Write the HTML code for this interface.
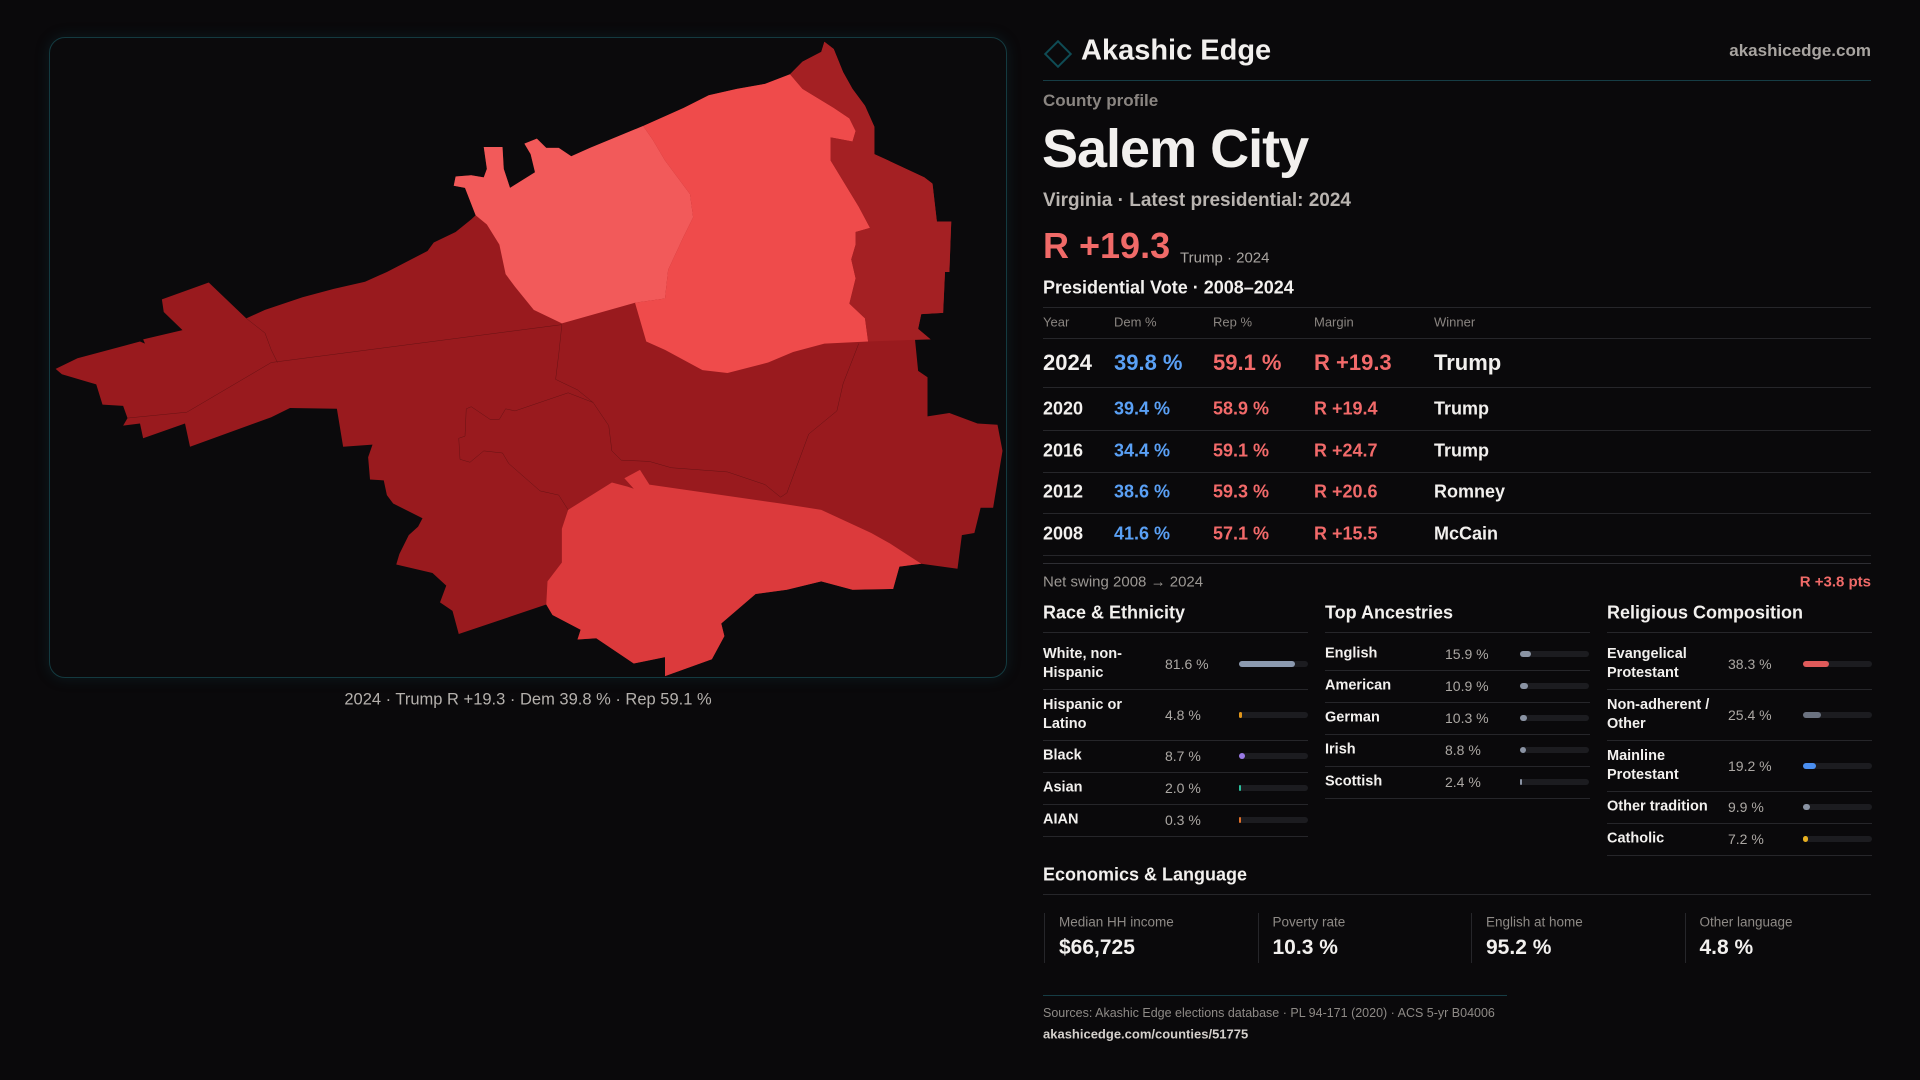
<!DOCTYPE html>
<html><head><meta charset="utf-8">
<style>
*{margin:0;padding:0;box-sizing:border-box}
body{width:1920px;height:1080px;background:#0a090b;font-family:"Liberation Sans",sans-serif;color:#f2f0ee;position:relative;overflow:hidden}
.a{position:absolute;white-space:nowrap}
.hl{position:absolute;height:1px;background:#26262a}
.mid{transform:translateY(-50%)}
</style></head><body>
<div class="a" style="left:49px;top:37px;width:958px;height:641px;border:1px solid #143a40;border-radius:16px;background:#0b0a0c;box-shadow:0 0 14px rgba(20,80,90,0.25)"></div>
<svg class="a" style="left:0;top:0" width="1920" height="1080" viewBox="0 0 1920 1080">
<g transform="translate(40,30) scale(0.625,0.4209)">
<polygon fill="#991a1e" points="25,805 60,780 160,740 168,745 165,735 228,713 198,670 195,640 270,600 330,685 360,665 420,635 470,615 520,598 555,575 620,525 630,505 665,480 690,450 697,440 680,375 662,370 665,348 690,345 710,350 715,330 710,278 740,278 742,330 752,375 792,338 785,295 775,270 795,258 810,280 830,280 850,300 880,280 965,228 1030,185 1070,155 1115,140 1160,128 1200,105 1220,75 1250,52 1255,28 1270,45 1285,100 1300,140 1320,180 1335,230 1335,295 1350,305 1415,350 1428,365 1435,455 1458,455 1455,575 1448,575 1445,672 1410,675 1405,710 1425,735 1400,735 1405,810 1420,825 1420,918 1455,910 1500,935 1532,938 1540,1000 1525,1135 1505,1135 1495,1195 1475,1200 1468,1280 1410,1268 1375,1275 1365,1328 1300,1330 1250,1310 1195,1330 1145,1340 1090,1410 1095,1440 1075,1495 1000,1535 1000,1490 950,1505 890,1445 860,1448 865,1425 820,1390 810,1365 670,1435 660,1380 640,1360 650,1320 628,1290 570,1270 575,1245 590,1200 605,1180 612,1160 565,1125 555,1105 550,1070 528,1068 525,1015 532,985 485,990 475,900 400,898 370,920 240,990 232,935 165,970 160,935 133,940 140,922 133,893 100,890 90,842 35,818"/>
<polygon fill="#f25a5a" points="697,440 680,375 662,370 665,348 690,345 710,350 715,330 710,278 740,278 742,330 752,375 792,338 785,295 775,270 795,258 810,280 830,280 850,300 880,280 965,228 980,260 1000,310 1040,390 1045,445 1030,490 1005,570 1000,638 952,648 835,697 790,665 760,610 745,580 735,510 715,462"/>
<polygon fill="#ef4b4b" points="965,228 1030,185 1070,155 1115,140 1160,128 1200,105 1220,140 1270,185 1295,210 1305,240 1300,265 1265,255 1265,310 1310,420 1328,470 1305,480 1305,510 1298,545 1305,590 1295,650 1320,685 1325,740 1255,745 1205,765 1165,790 1100,815 1060,808 1000,760 970,740 952,648 1000,638 1005,570 1030,490 1045,445 1040,390 1000,310 980,260"/>
<polygon fill="#a42023" points="1200,105 1220,75 1250,52 1255,28 1270,45 1285,100 1300,140 1320,180 1335,230 1335,295 1350,305 1415,350 1428,365 1435,455 1458,455 1455,575 1448,575 1445,672 1410,675 1405,710 1425,735 1325,740 1320,685 1295,650 1305,590 1298,545 1305,510 1305,480 1328,470 1310,420 1265,310 1265,255 1300,265 1305,240 1295,210 1270,185 1220,140"/>
<polygon fill="#dc3a3c" points="960,1045 975,1080 1185,1125 1250,1140 1330,1195 1360,1220 1410,1268 1375,1275 1365,1328 1300,1330 1250,1310 1195,1330 1145,1340 1090,1410 1095,1440 1075,1495 1000,1535 1000,1490 950,1505 890,1445 860,1448 865,1425 820,1390 810,1365 812,1310 835,1265 835,1185 845,1140 915,1075 940,1085 950,1090 935,1065"/>
<g fill="none" stroke="#5e0f12" vector-effect="non-scaling-stroke" style="stroke-width:0.8px">
<polyline points="835,700 370,790 235,908 140,922"/>
<polyline points="330,685 360,720 370,760 380,790"/>
<polyline points="835,700 830,770 825,830 860,855 885,885 910,940 915,1000 930,1022 975,1025 1010,1040 1100,1050 1160,1080 1185,1110 1195,1100 1230,960 1275,905 1285,840 1310,745"/>
<polyline points="885,885 845,862 760,905 745,900 735,925 720,925 690,895 682,900 680,965 670,970 672,1020 688,1027 710,1000 740,1005 750,1030 800,1095 830,1105 845,1140"/>
</g>
</g>
</svg>
<div class="a" style="left:528px;top:700px;transform:translate(-50%,-50%);font-size:16.5px;color:#b4b0ac">2024 · Trump R +19.3 · Dem 39.8 % · Rep 59.1 %</div>

<div class="a" style="left:1048px;top:44px;width:20px;height:20px;border:2px solid #0f4c55;transform:rotate(45deg)"></div>
<div class="a mid" style="left:1081px;top:51px;font-size:29px;font-weight:bold">Akashic Edge</div>
<div class="a mid" style="right:49px;top:51px;font-size:17px;color:#a8a4a0;font-weight:bold">akashicedge.com</div>
<div class="hl" style="left:1043px;width:828px;top:80px;background:#163d45"></div>
<div class="a mid" style="left:1043px;top:101px;font-size:17px;color:#8a8581;font-weight:bold">County profile</div>
<div class="a mid" style="left:1042px;top:149px;font-size:54px;font-weight:bold;letter-spacing:-1px">Salem City</div>
<div class="a mid" style="left:1043px;top:201px;font-size:19px;color:#b9b4b0;font-weight:bold">Virginia · Latest presidential: 2024</div>
<div class="a mid" style="left:1043px;top:246px;font-size:36px;color:#f06a68;font-weight:bold">R +19.3</div>
<div class="a mid" style="left:1180px;top:258px;font-size:15px;color:#a8a4a0">Trump · 2024</div>
<div class="a mid" style="left:1043px;top:288px;font-size:18px;font-weight:bold">Presidential Vote · 2008–2024</div>
<div class="hl" style="left:1043px;width:828px;top:563px;background:#2e2e33"></div>
<div class="a mid" style="left:1043px;top:582px;font-size:15px;color:#9c9894">Net swing 2008 → 2024</div>
<div class="a mid" style="right:49px;top:582px;font-size:15px;color:#f06a68;font-weight:bold">R +3.8 pts</div>

<div class="a mid" style="left:1043px;top:875px;font-size:18px;font-weight:bold">Economics &amp; Language</div>
<div class="hl" style="left:1043px;width:828px;top:894px"></div>
<div class="hl" style="left:1043px;width:464px;top:995px;background:#163d45"></div>
<div class="a mid" style="left:1043px;top:1013px;font-size:12.5px;color:#8e8a86">Sources: Akashic Edge elections database · PL 94-171 (2020) · ACS 5-yr B04006</div>
<div class="a mid" style="left:1043px;top:1034px;font-size:13px;color:#d4d0cc;font-weight:bold">akashicedge.com/counties/51775</div>

<script>
const years=["2024","2020","2016","2012","2008"];
const demPct=[39.8,39.4,34.4,38.6,41.6];
const repPct=[59.1,58.9,59.1,59.3,57.1];
const margins=[19.3,19.4,24.7,20.6,15.5];
const winners=["Trump","Trump","Trump","Romney","McCain"];
const raceLabels=["White, non-<br>Hispanic","Hispanic or<br>Latino","Black","Asian","AIAN"];
const raceValues=[81.6,4.8,8.7,2.0,0.3];
const ancLabels=["English","American","German","Irish","Scottish"];
const ancValues=[15.9,10.9,10.3,8.8,2.4];
const relLabels=["Evangelical<br>Protestant","Non-adherent /<br>Other","Mainline<br>Protestant","Other tradition","Catholic"];
const relValues=[38.3,25.4,19.2,9.9,7.2];
const econLabels=["Median HH income","Poverty rate","English at home","Other language"];
const econValues=["$66,725","10.3 %","95.2 %","4.8 %"];

function mk(parent,css,html){const d=document.createElement('div');d.className='a';d.style.cssText=css;if(html!==undefined)d.innerHTML=html;parent.appendChild(d);return d;}
const B=document.body;
const cols=[1043,1114,1213,1314,1434];
const hdr=["Year","Dem %","Rep %","Margin","Winner"];
mk(B,'left:1043px;width:828px;top:307px;height:1px;background:#26262a');
hdr.forEach((h,i)=>{const e=mk(B,`left:${cols[i]}px;top:322px;transform:translateY(-50%);font-size:13px;color:#8a8581`,h);

});
mk(B,'left:1043px;width:828px;top:338px;height:1px;background:#26262a');
let y=338;
years.forEach((yr,i)=>{
  const h=i===0?49:(i===1?43:41.5);
  const c=y+h/2;const fs=i===0?22:18;
  const cells=[[yr,'#f2f0ee'],[demPct[i].toFixed(1)+' %','#5aa0f5'],[repPct[i].toFixed(1)+' %','#f26a6a'],['R +'+margins[i].toFixed(1),'#f26a6a'],[winners[i],'#f2f0ee']];
  cells.forEach((cl,j)=>{const e=mk(B,`left:${cols[j]}px;top:${c}px;transform:translateY(-50%);font-size:${fs}px;color:${cl[1]};font-weight:bold`,cl[0]);
  
  });
  y+=h;
  const l=mk(B,`left:1043px;width:828px;top:${Math.round(y)}px;height:1px;background:#26262a`);
  
});
const sections=[
 {title:"Race & Ethnicity",x:1043,vx:1165,bx:1239,labels:raceLabels,vals:raceValues,colors:["#8c9ab0","#e0951a","#9a7ae6","#2bbf9c","#e0702a"]},
 {title:"Top Ancestries",x:1325,vx:1445,bx:1520,labels:ancLabels,vals:ancValues,colors:["#8a93a3","#8a93a3","#8a93a3","#8a93a3","#8a93a3"]},
 {title:"Religious Composition",x:1607,vx:1728,bx:1803,labels:relLabels,vals:relValues,colors:["#e05a5a","#6b7280","#4a8ef0","#8a93a3","#e8b020"]}
];
sections.forEach(s=>{
  const t=mk(B,`left:${s.x}px;top:613px;transform:translateY(-50%);font-size:18px;font-weight:bold`,s.title.replace('&','&amp;'));
  
  
  mk(B,`left:${s.x}px;width:265px;top:632px;height:1px;background:#26262a`);
  let yy=632;
  s.labels.forEach((lb,i)=>{
    const two=lb.indexOf('<br>')>=0;
    const h=(two?51:32)+(i===0?6:0);
    const c=yy+h/2+(i===0?3:0);
    const le=mk(B,`left:${s.x}px;top:${c}px;transform:translateY(-50%);font-size:14.5px;font-weight:bold;line-height:19px`,lb);
    
    
    const ve=mk(B,`left:${s.vx}px;top:${c}px;transform:translateY(-50%);font-size:14px;color:#aca8a4`,s.vals[i].toFixed(1)+' %');
    
    
    const tr=mk(B,`left:${s.bx}px;top:${c-3}px;width:69px;height:6px;border-radius:3px;background:#1c1c20`);
    
    
    const w=Math.max(69*s.vals[i]/100,1.5);
    const br=mk(B,`left:${s.bx}px;top:${c-3}px;width:${w}px;height:6px;border-radius:3px;background:${s.colors[i]}`);
    
    
    yy+=h;
    mk(B,`left:${s.x}px;width:265px;top:${yy}px;height:1px;background:#26262a`);
  });
});
econLabels.forEach((lb,i)=>{
  const x=1044+i*213.5;
  const card=mk(B,`left:${x}px;top:913px;width:1px;height:50px;background:#26262a`);
  
  const l=mk(B,`left:${x+15}px;top:922px;transform:translateY(-50%);font-size:13.5px;color:#8e8a86`,lb);
  
  
  const v=mk(B,`left:${x+15}px;top:948px;transform:translateY(-50%);font-size:21px;font-weight:bold`,econValues[i]);
  
  
});
</script>
</body></html>
